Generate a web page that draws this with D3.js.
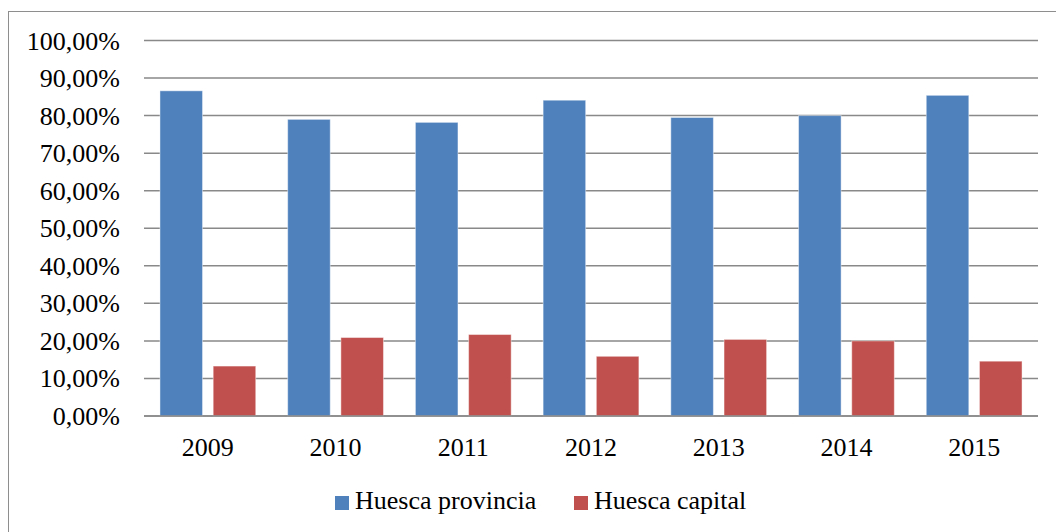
<!DOCTYPE html>
<html><head><meta charset="utf-8">
<script src="https://cdn.jsdelivr.net/npm/d3@7"></script>
<style>html,body{margin:0;padding:0;background:#fff;overflow:hidden}
svg text{font-family:"Liberation Serif","Times New Roman",Times,serif;}</style>
</head><body>
<svg id="c" width="1056" height="532"></svg>
<script>
const years = ["2009","2010","2011","2012","2013","2014","2015"];
const provincia = [86.6, 79.0, 78.2, 84.1, 79.5, 80.0, 85.4];
const capital = [13.3, 20.9, 21.7, 15.9, 20.4, 20.0, 14.6];
const seriesNames = ["Huesca provincia", "Huesca capital"];
const seriesColors = ["#4F81BD", "#C0504D"];
const yTicks = [0,10,20,30,40,50,60,70,80,90,100];

const svg = d3.select("#c");

// frame
svg.append("rect").attr("x",8.5).attr("y",11.5).attr("width",1060).attr("height",540)
  .attr("fill","#fff").attr("stroke","#8e8e8e").attr("stroke-width",1);

const L = 144, R = 1038, T = 40.5, B = 416;
const x0 = d3.scaleBand().domain(years).range([L, R]).paddingInner(0.25).paddingOuter(0.125);
const x1 = d3.scaleBand().domain([0,1]).range([0, x0.bandwidth()]).paddingInner(0.2);
const y = d3.scaleLinear().domain([0,100]).range([B, T]);

// gridlines
svg.append("g").selectAll("line").data(yTicks).join("line")
  .attr("x1", L).attr("x2", R).attr("y1", d=>y(d)).attr("y2", d=>y(d))
  .attr("stroke", "#898989").attr("stroke-width", 1.5);

// y labels
svg.append("g").selectAll("text").data(yTicks).join("text")
  .attr("x", 120).attr("y", d=>y(d)+9)
  .attr("text-anchor","end").style("font-size","26px").attr("fill","#000")
  .text(d=>d3.format(".2f")(d).replace(".",",")+"%");

const data = years.map((yr,i)=>({yr, vals:[provincia[i], capital[i]]}));
const groups = svg.append("g").selectAll("g").data(data).join("g")
  .attr("transform", d=>`translate(${x0(d.yr)},0)`);
groups.selectAll("rect").data(d=>d.vals.map((v,k)=>({v,k}))).join("rect")
  .attr("x", d=>x1(d.k)).attr("width", x1.bandwidth())
  .attr("y", d=>y(d.v)).attr("height", d=>B - y(d.v))
  .attr("fill", d=>seriesColors[d.k])
  .attr("stroke", "#fff").attr("stroke-opacity",0.45).attr("stroke-width",1);

// baseline
svg.append("line").attr("x1",L).attr("x2",R).attr("y1",B).attr("y2",B)
  .attr("stroke","#898989").attr("stroke-width",1.5);

// x labels
svg.append("g").selectAll("text").data(years).join("text")
  .attr("x", d=>x0(d)+x0.bandwidth()/2).attr("y", 456)
  .attr("text-anchor","middle").style("font-size","26px").attr("fill","#000")
  .text(d=>d);

// legend
const legX = [335, 574];
const leg = svg.append("g").selectAll("g").data(seriesNames).join("g")
  .attr("transform",(d,i)=>`translate(${legX[i]},496)`);
leg.append("rect").attr("width",14).attr("height",14).attr("fill",(d,i)=>seriesColors[i]);
leg.append("text").attr("x",20).attr("y",13).style("font-size","26px")
  .attr("fill","#000").text(d=>d);
</script>
</body></html>
